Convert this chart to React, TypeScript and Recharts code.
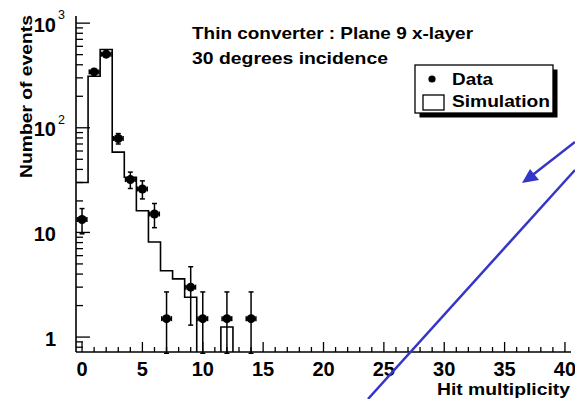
import React from 'react';
import {
  ComposedChart, Line, Scatter, XAxis, YAxis, ErrorBar,
} from 'recharts';

// ---------- data ----------
const simBinLowEdges = [-0.5, 0.5, 1.5, 2.5, 3.5, 4.5, 5.5, 6.5, 7.5, 8.5, 9.5, 10.5, 11.5];
const simulationValues = [30, 311, 560, 58.5, 33.7, 16.1, 8.1, 4.3, 3.6, 2.4, 0, 0, 1.25];
const simLastUpperEdge = 12.5;

const dataX = [0, 1, 2, 3, 4, 5, 6, 7, 9, 10, 12, 14];
const dataY = [13.3, 342, 505, 79, 32, 26, 15, 1.5, 3, 1.5, 1.5, 1.5];
const dataErrUp = [3.6, 18, 22, 9, 5.7, 5.1, 3.9, 1.2, 1.7, 1.2, 1.2, 1.2];
const dataErrDown = [3.6, 18, 22, 9, 5.7, 5.1, 3.9, 0.8, 1.7, 0.8, 0.8, 0.8];
const dataErrX = [0.4, 0.4, 0.4, 0.4, 0.4, 0.4, 0.4, 0.4, 0.4, 0.4, 0.4, 0.4];

const xMajorTicks = [0, 5, 10, 15, 20, 25, 30, 35, 40];
const xMinorStep = 1;
const yMajorTicks = [1, 10, 100, 1000];
const yMinorMultipliers = [2, 3, 4, 5, 6, 7, 8, 9];
const yExtraMinor = [0.8, 0.9];

const X_DOMAIN: [number, number] = [-0.5, 40.5];
const Y_DOMAIN: [number, number] = [0.72, 1170];
const FLOOR = 0.1; // empty bins drawn down to (and clipped at) the frame bottom

// ---------- tables built for the library ----------
const simTable = [
  ...simBinLowEdges.map((x, i) => ({ x, v: simulationValues[i] > 0 ? simulationValues[i] : FLOOR })),
  { x: simLastUpperEdge, v: FLOOR },
];
const dataTable = dataX.map((x, i) => ({
  x,
  y: dataY[i],
  ey: [dataErrDown[i], dataErrUp[i]],
  ex: dataErrX[i],
}));

const xTicks: number[] = [];
for (let t = xMajorTicks[0]; t <= xMajorTicks[xMajorTicks.length - 1]; t += xMinorStep) xTicks.push(t);
const yTicks: number[] = [...yExtraMinor];
yMajorTicks.forEach((d) => {
  yTicks.push(d);
  if (d < 1000) yMinorMultipliers.forEach((m) => yTicks.push(d * m));
});

const FONT = '"Liberation Sans", Arial, Helvetica, sans-serif';
const BLUE = '#3535c8';

const XTick = (props: any) => {
  const { x, y, payload } = props;
  const v = payload.value;
  const major = xMajorTicks.includes(v);
  return (
    <g>
      <line x1={x} x2={x} y1={y} y2={y - (major ? 10 : 5)} stroke="#000" strokeWidth={1.3} />
      {major && (
        <text x={x} y={y + 23.5} textAnchor="middle" fontFamily={FONT} fontWeight="bold" fontSize={20} fill="#000">
          {v}
        </text>
      )}
    </g>
  );
};

const YTick = (props: any) => {
  const { x, y, payload } = props;
  const v = payload.value;
  const lg = Math.log10(v);
  const major = Math.abs(lg - Math.round(lg)) < 1e-6;
  const exp = Math.round(lg);
  let label: React.ReactNode = null;
  if (major) {
    if (exp <= 1) {
      label = (
        <text x={x - 20} y={y + 8.5} textAnchor="end" fontFamily={FONT} fontWeight="bold" fontSize={20} fill="#000">
          {String(v)}
        </text>
      );
    } else {
      label = (
        <g>
          <text x={x - 20} y={y + 8.5} textAnchor="end" fontFamily={FONT} fontWeight="bold" fontSize={20} fill="#000">
            10
          </text>
          <text x={x - 18} y={y - 4} textAnchor="start" fontFamily={FONT} fontSize={12.5} fill="#000">
            {String(exp)}
          </text>
        </g>
      );
    }
  }
  return (
    <g>
      <line x1={x} x2={x + (major ? 14 : 7)} y1={y} y2={y} stroke="#000" strokeWidth={1.3} />
      {label}
    </g>
  );
};

const Dot = (p: any) => <circle cx={p.cx} cy={p.cy} r={4.5} fill="#000" />;

export default function App() {
  return (
    <div style={{ position: 'absolute', left: 0, top: 0, width: 575, height: 399, background: '#fff' }}>
      <ComposedChart
        width={575}
        height={399}
        margin={{ top: 16, right: 4, bottom: 0, left: 0 }}
        style={{ fontFamily: FONT }}
      >
        <XAxis
          dataKey="x"
          type="number"
          domain={X_DOMAIN}
          allowDataOverflow
          ticks={xTicks}
          interval={0}
          tick={<XTick />}
          tickSize={0}
          tickMargin={0}
          tickLine={false}
          height={47}
          axisLine={{ stroke: '#000', strokeWidth: 1.6 }}
        />
        <XAxis
          xAxisId="top"
          orientation="top"
          type="number"
          domain={[0, 1]}
          height={0}
          tick={false}
          tickLine={false}
          axisLine={{ stroke: '#000', strokeWidth: 1.6 }}
        />
        <YAxis
          type="number"
          scale="log"
          domain={Y_DOMAIN}
          allowDataOverflow
          ticks={yTicks}
          interval={0}
          tick={<YTick />}
          tickSize={0}
          tickMargin={0}
          tickLine={false}
          width={76}
          axisLine={{ stroke: '#000', strokeWidth: 1.6 }}
        />
        <YAxis
          yAxisId="right"
          orientation="right"
          type="number"
          domain={[0, 1]}
          width={0}
          tick={false}
          tickLine={false}
          axisLine={{ stroke: '#000', strokeWidth: 1.6 }}
        />
        <Line
          data={simTable}
          dataKey="v"
          type="stepAfter"
          stroke="#000"
          strokeWidth={1.6}
          dot={false}
          activeDot={false}
          isAnimationActive={false}
        />
        <Scatter data={dataTable} dataKey="y" shape={<Dot />} isAnimationActive={false}>
          <ErrorBar dataKey="ey" direction="y" width={2.5} stroke="#000" strokeWidth={1.5} isAnimationActive={false} />
          <ErrorBar dataKey="ex" direction="x" width={2.5} stroke="#000" strokeWidth={1.5} isAnimationActive={false} />
        </Scatter>
      </ComposedChart>

      <svg
        width={575}
        height={399}
        style={{ position: 'absolute', left: 0, top: 0, pointerEvents: 'none' }}
      >
        <g fontFamily={FONT} fontWeight="bold" fill="#000">
          <text x={192} y={38.5} fontSize={16.5} textLength={281} lengthAdjust="spacingAndGlyphs">
            Thin converter : Plane 9 x-layer
          </text>
          <text x={192} y={63.5} fontSize={16.5} textLength={196} lengthAdjust="spacingAndGlyphs">
            30 degrees incidence
          </text>
          <text
            transform="translate(32,96.5) rotate(-90)"
            x={0}
            y={0}
            textAnchor="middle"
            fontSize={17}
            textLength={163}
            lengthAdjust="spacingAndGlyphs"
          >
            Number of events
          </text>
          <text x={570} y={394.5} textAnchor="end" fontSize={17} textLength={133} lengthAdjust="spacingAndGlyphs">
            Hit multiplicity
          </text>
        </g>

        {/* legend */}
        <rect x={419.5} y={69.5} width={138} height={48} fill="#000" />
        <rect x={415} y={65} width={138} height={48} fill="#fff" stroke="#000" strokeWidth={1.3} />
        <circle cx={432} cy={79} r={3.6} fill="#000" />
        <rect x={423} y={95} width={21} height={15} fill="#fff" stroke="#000" strokeWidth={1.3} />
        <g fontFamily={FONT} fontWeight="bold" fill="#000">
          <text x={452} y={84.5} fontSize={17} textLength={41} lengthAdjust="spacingAndGlyphs">Data</text>
          <text x={452} y={107} fontSize={17} textLength={98} lengthAdjust="spacingAndGlyphs">Simulation</text>
        </g>

        {/* blue annotation */}
        <line x1={368} y1={399} x2={575} y2={170} stroke={BLUE} strokeWidth={2.5} />
        <line x1={575} y1={142} x2={530} y2={177} stroke={BLUE} strokeWidth={2.5} />
        <polygon points="522,183 530,169 539,180" fill={BLUE} />
      </svg>
    </div>
  );
}
